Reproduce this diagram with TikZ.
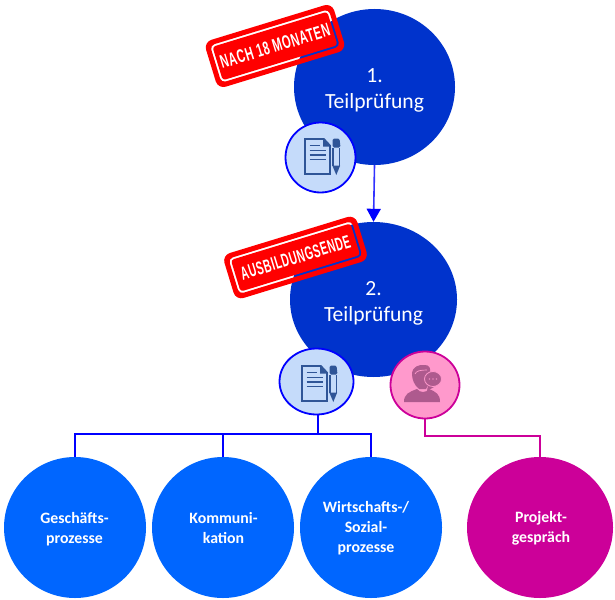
\documentclass[tikz,border=0pt]{standalone}
\usepackage{fontspec}
\usepackage{graphicx}
\setmainfont{Carlito}
\newfontfamily\stampfont{Liberation Sans}[BoldFont={Liberation Sans Bold},LetterSpace=6]
\usetikzlibrary{shapes.geometric,arrows.meta}
\definecolor{bigblue}{HTML}{0033CC}
\definecolor{midblue}{HTML}{0066FF}
\definecolor{purecol}{HTML}{0000FF}
\definecolor{arrowline}{HTML}{3333FF}
\definecolor{magcol}{HTML}{CC0099}
\definecolor{lightblue}{HTML}{C5DBFA}
\definecolor{lightpink}{HTML}{FF99CC}
\definecolor{docicon}{HTML}{2F5597}
\definecolor{personicon}{HTML}{AE5A8E}
\tikzset{
  x=1pt,y=-1pt,
  bigcirc/.style={ellipse,fill=bigblue,draw=none,inner sep=0pt,minimum width=#1},
  bigtext/.style={text=white,align=center,inner sep=0pt,font=\fontsize{21.6}{26}\selectfont},
  subcirc/.style={ellipse,fill=midblue,inner sep=0pt,minimum width=142pt,minimum height=141pt},
  projcirc/.style={ellipse,fill=magcol,inner sep=0pt,minimum width=146pt,minimum height=141pt},
  subtext/.style={text=white,align=center,inner sep=0pt,font=\bfseries\fontsize{15.8}{20}\selectfont},
  iconcirc/.style={ellipse,fill=lightblue,draw=purecol,line width=1.8pt,inner sep=0pt},
  pinkcirc/.style={ellipse,fill=lightpink,draw=magcol,line width=1.8pt,inner sep=0pt},
  blueline/.style={draw=purecol,line width=2pt},
  pinkline/.style={draw=magcol,line width=2pt},
  stamptext/.style={text=white,inner sep=0pt,font=\stampfont\bfseries},
}
% stamp: centre x, centre y, half width, half height, name, text
\newcommand{\stampbox}[6]{%
  \begin{scope}[shift={(#1pt,-#2pt)},rotate=17]
    \fill[red,even odd rule,rounded corners=8pt]
      (-#3,-#4) rectangle (#3,#4)
      [rounded corners=4.5pt] (-#3+5,-#4+5) rectangle (#3-5,#4-5);
    \fill[red,rounded corners=3pt] (-#3+7,-#4+7) rectangle (#3-7,#4-7);
    \node[stamptext,transform shape] (#5) at (0,0) {\resizebox{114pt}{13pt}{#6}};
  \end{scope}}
\newcommand{\documenticon}[2]{%
  \begin{scope}[shift={(#1pt,-#2pt)}]
    \draw[docicon,line width=1.6pt,line join=miter]
      (-17,-17.5) -- (2,-17.5) -- (8,-11) -- (8,17.5) -- (-17,17.5) -- cycle;
    \fill[docicon] (1,-18) -- (8.5,-10) -- (1,-10) -- cycle;
    \draw[docicon,line width=1.9pt] (-12.5,-11) -- (-2,-11);
    \draw[docicon,line width=1.9pt] (-12.5,-6) -- (4,-6);
    \draw[docicon,line width=1.9pt] (-12.5,-1.5) -- (4,-1.5);
    \draw[docicon,line width=1.9pt] (-12.5,3) -- (4,3);
    % pen
    \fill[docicon,rounded corners=1.5pt] (10.5,-18) -- (17.5,-18) -- (18.5,-9) -- (10.5,-9) -- cycle;
    \draw[docicon,line width=1.4pt] (11,-9) -- (11,9) (17.5,9) -- (17.5,-9);
    \fill[docicon] (10.3,9) -- (14.3,18.5) -- (18.2,9) -- cycle;
  \end{scope}}
\begin{document}
\begin{tikzpicture}
\useasboundingbox (0,0) rectangle (615,599);
% main circles
\node[bigcirc=161pt,minimum height=156pt] (c1) at (374.5,87) {};
\node[bigcirc=167pt,minimum height=155pt] (c2) at (373.5,299.5) {};
\node[bigtext] (c1t) at (374.5,90.5) {1.\\Teilprüfung};
\node[bigtext] (c2t) at (373.5,303) {2.\\Teilprüfung};
% arrow
\draw[arrowline,line width=1.6pt,-{Triangle[width=14pt,length=13pt,color=purecol]}] (c1.south) -- (c2.north);
% sub circles
\node[subcirc] (g) at (75,527.5) {};
\node[subcirc] (k) at (223,527.5) {};
\node[subcirc] (w) at (371,527.5) {};
\node[projcirc] (p) at (540,527.5) {};
\node[subtext] (gt) at (74.5,529) {Geschäfts-\\prozesse};
\node[subtext] (kt) at (223.5,528) {Kommuni-\\kation};
\node[subtext] (wt) at (366,528) {Wirtschafts-/\\Sozial-\\prozesse};
\node[subtext] (pt) at (541,528) {Projekt-\\gespräch};
% icon circles
\node[iconcirc,minimum width=70pt,minimum height=70pt] (d1) at (320.5,157.5) {};
\node[iconcirc,minimum width=74pt,minimum height=66pt] (d2) at (316.5,381.5) {};
\node[pinkcirc,minimum width=69pt,minimum height=67pt] (t) at (425,385) {};
% connectors
\coordinate (bus) at (318,434);
\coordinate (pbus) at (425,436);
\draw[blueline] (bus |- d2.south) -- (bus);
\draw[blueline] (g.north) -- (g.north |- bus) -- (w.north |- bus) -- (w.north);
\draw[blueline] (k.north) -- (k.north |- bus);
\draw[pinkline] (t.south) -- (t.south |- pbus) -- (p.north |- pbus) -- (p.north);
% icons
\documenticon{322}{156.5}
\documenticon{319}{383.5}
% person icon
\begin{scope}[shift={(425pt,-385pt)}]
  % shoulders
  \fill[personicon] (-21,17) .. controls (-21,9) and (-16,7) .. (-8,4)
     .. controls (-5,8) and (1,8) .. (4,4)
     .. controls (11,7) and (15,9) .. (15,17) -- cycle;
  % head and hair
  \fill[personicon] (-6,4) .. controls (-11,0) and (-13,-6) .. (-13,-11)
     .. controls (-13,-18) and (-6,-21) .. (0,-20)
     .. controls (4,-20) and (6,-17) .. (5,-12)
     .. controls (6,-6) and (3,1) .. (1,4) -- cycle;
  \draw[lightpink,line width=0.7pt] (-10,-11) .. controls (-9,-14) and (-5,-15) .. (2,-15);
  % speech bubble
  \fill[personicon] (3,0) -- (2,6) -- (9,2) -- cycle;
  \fill[personicon,draw=lightpink,line width=0.8pt] (8,-6) ellipse (8.5 and 7.5);
  \fill[lightpink!70!personicon] (4.5,-6) circle (0.8) (8,-6) circle (0.8) (11.5,-6) circle (0.8);
\end{scope}
% stamps
\stampbox{275}{46}{67}{24.5}{s1}{NACH 18 MONATEN}
\stampbox{295.5}{257.5}{69.5}{23.5}{s2}{AUSBILDUNGSENDE}
\end{tikzpicture}
\end{document}
